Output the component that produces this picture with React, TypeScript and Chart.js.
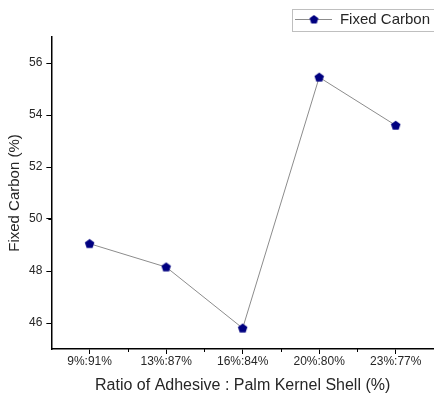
import React, { useEffect, useRef } from "react";
import { Chart, registerables } from "chart.js";

Chart.register(...registerables);

const categories = ["9%:91%", "13%:87%", "16%:84%", "20%:80%", "23%:77%"];
const fixedCarbon = [49.05, 48.15, 45.8, 55.45, 53.6];
const yMin = 45;
const yMax = 57;
const seriesLabel = "Fixed Carbon";
const xTitle = "Ratio of Adhesive : Palm Kernel Shell (%)";
const yTitle = "Fixed Carbon (%)";

const NAVY = "#000080";
const LINE = "#8c8c8c";
const TEXT = "#262626";
const FONT = "'Liberation Sans', Arial, sans-serif";

function pentagon(ctx: CanvasRenderingContext2D, cx: number, cy: number, r: number) {
  ctx.beginPath();
  for (let i = 0; i < 5; i++) {
    const a = -Math.PI / 2 + (i * 2 * Math.PI) / 5;
    const x = cx + r * Math.cos(a);
    const y = cy + r * Math.sin(a);
    if (i === 0) ctx.moveTo(x, y);
    else ctx.lineTo(x, y);
  }
  ctx.closePath();
  ctx.fillStyle = NAVY;
  ctx.fill();
}

function makeMarker(): HTMLCanvasElement {
  const c = document.createElement("canvas");
  c.width = 11;
  c.height = 11;
  const ctx = c.getContext("2d")!;
  pentagon(ctx, 5.5, 5.8, 5);
  return c;
}

// legend sample: short line with the pentagon marker in its middle
function makeLegendMarker(): HTMLCanvasElement {
  const c = document.createElement("canvas");
  c.width = 37;
  c.height = 11;
  const ctx = c.getContext("2d")!;
  const cy = 5;
  ctx.strokeStyle = LINE;
  ctx.lineWidth = 1;
  ctx.beginPath();
  ctx.moveTo(0, cy + 0.5);
  ctx.lineTo(37, cy + 0.5);
  ctx.stroke();
  pentagon(ctx, 18.5, cy + 0.7, 4.6);
  return c;
}

const minorTicks = {
  id: "minorTicks",
  afterDraw(chart: any) {
    const ctx = chart.ctx;
    const x = chart.scales.x;
    const y = chart.scales.y;
    ctx.save();
    ctx.strokeStyle = "#000";
    ctx.lineWidth = 1;
    for (let v = yMin + 1; v < yMax; v += 2) {
      const py = Math.round(y.getPixelForValue(v)) + 0.5;
      ctx.beginPath();
      ctx.moveTo(x.left, py);
      ctx.lineTo(x.left - 3, py);
      ctx.stroke();
    }
    const n = categories.length;
    for (let i = 0; i < n - 1; i++) {
      const px = Math.round((x.getPixelForValue(i) + x.getPixelForValue(i + 1)) / 2) + 0.5;
      ctx.beginPath();
      ctx.moveTo(px, y.bottom);
      ctx.lineTo(px, y.bottom + 3);
      ctx.stroke();
    }
    ctx.restore();
  },
};

const legendBox = {
  id: "legendBox",
  afterDraw(chart: any) {
    const lg = chart.legend;
    if (!lg || !lg.legendHitBoxes || !lg.legendHitBoxes.length) return;
    const hb = lg.legendHitBoxes[0];
    const ctx = chart.ctx;
    ctx.save();
    ctx.strokeStyle = "#bfbfbf";
    ctx.lineWidth = 1;
    const left = Math.round(hb.left - 3) + 0.5;
    const top = Math.round(hb.top + hb.height / 2 - 11) + 0.5;
    ctx.strokeRect(left, top, chart.width + 10 - left, 22);
    ctx.restore();
  },
};

export default function App() {
  const ref = useRef<HTMLCanvasElement | null>(null);

  useEffect(() => {
    document.body.style.margin = "0";
    if (!ref.current) return;
    const marker = makeMarker();
    const legendMarker = makeLegendMarker();
    const chart = new Chart(ref.current, {
      type: "line",
      data: {
        labels: categories,
        datasets: [
          {
            label: seriesLabel,
            data: fixedCarbon,
            borderColor: LINE,
            borderWidth: 1,
            pointStyle: marker as any,
            pointRadius: 5,
            pointBackgroundColor: NAVY,
            pointBorderColor: NAVY,
            tension: 0,
          },
        ],
      },
      plugins: [minorTicks, legendBox],
      options: {
        animation: false,
        responsive: true,
        maintainAspectRatio: false,
        layout: { autoPadding: false, padding: { left: 1, right: 0, top: 8, bottom: 0 } },
        plugins: {
          tooltip: { enabled: false },
          legend: {
            position: "top",
            align: "end",
            labels: {
              usePointStyle: true,
              pointStyleWidth: 37,
              boxHeight: 11,
              padding: 4,
              color: TEXT,
              font: { family: FONT, size: 15, lineHeight: 1.8 },
              generateLabels: () => [
                {
                  text: seriesLabel,
                  pointStyle: legendMarker as any,
                  fillStyle: NAVY,
                  strokeStyle: NAVY,
                  lineWidth: 0,
                  hidden: false,
                  datasetIndex: 0,
                  fontColor: TEXT,
                } as any,
              ],
            },
          },
        },
        scales: {
          x: {
            type: "category",
            offset: true,
            grid: {
              offset: false,
              drawOnChartArea: false,
              drawTicks: true,
              tickLength: 5,
              tickColor: "#000",
            },
            border: { display: true, color: "#000", width: 1.5 },
            ticks: {
              color: TEXT,
              font: { family: FONT, size: 12 },
              padding: 0,
              maxRotation: 0,
            },
            title: {
              display: true,
              text: xTitle,
              color: TEXT,
              font: { family: FONT, size: 16, lineHeight: 1.1 },
              padding: { top: 8, bottom: 0 },
            },
          },
          y: {
            type: "linear",
            min: yMin,
            max: yMax,
            afterBuildTicks: (scale: any) => {
              scale.ticks = scale.ticks.filter((t: any) => t.value % 2 === 0);
            },
            grid: {
              drawOnChartArea: false,
              drawTicks: true,
              tickLength: 5,
              tickColor: "#000",
            },
            border: { display: true, color: "#000", width: 1.5 },
            ticks: {
              stepSize: 1,
              color: TEXT,
              font: { family: FONT, size: 12 },
              padding: 4,
            },
            title: {
              display: true,
              text: yTitle,
              color: TEXT,
              font: { family: FONT, size: 15 },
              padding: { top: 5, bottom: 1 },
            },
          },
        },
      },
    });
    return () => chart.destroy();
  }, []);

  return (
    <div style={{ width: 434, height: 394, position: "relative" }}>
      <canvas ref={ref} />
    </div>
  );
}
